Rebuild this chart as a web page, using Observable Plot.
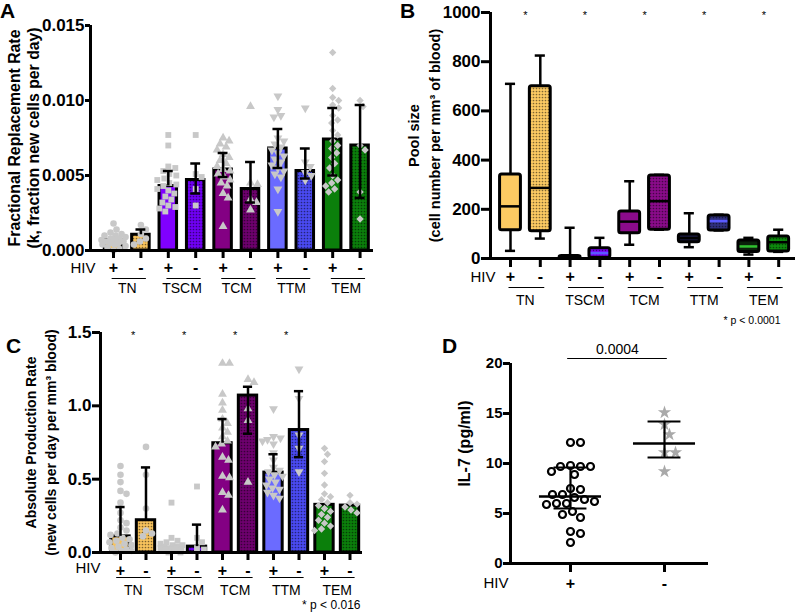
<!DOCTYPE html>
<html><head><meta charset="utf-8">
<script src="https://cdn.jsdelivr.net/npm/d3@7"></script>
<script src="https://cdn.jsdelivr.net/npm/@observablehq/plot@0.6"></script>
<style>
body{margin:0;background:#fff;}
#root{position:relative;width:800px;height:616px;overflow:hidden;font-family:"Liberation Sans",Arial,sans-serif;background:#fff;}
.panel{position:absolute;}
.letter{position:absolute;font-weight:bold;font-size:21px;line-height:1;}
</style></head><body>
<svg width="0" height="0" style="position:absolute"><defs>
<pattern id="dots" width="3" height="3" patternUnits="userSpaceOnUse"><circle cx="1.5" cy="1.5" r="0.85" fill="rgba(0,0,0,0.5)"/></pattern>
</defs></svg>
<div id="root">
  <div class="panel" id="pA" style="left:0;top:0"></div>
  <div class="panel" id="pB" style="left:400px;top:0"></div>
  <div class="panel" id="pC" style="left:0;top:300px"></div>
  <div class="panel" id="pD" style="left:400px;top:300px"></div>
  <div class="letter" style="left:0;top:0">A</div>
  <div class="letter" style="left:400px;top:0">B</div>
  <div class="letter" style="left:6px;top:335px">C</div>
  <div class="letter" style="left:442px;top:335px">D</div>
</div>
<script>
const FONT = '"Liberation Sans", Arial, Helvetica, sans-serif';
const groups = ["TN", "TSCM", "TCM", "TTM", "TEM"];
const hivSigns = ["+", "-"];
const barColors = ["#f8c35c","#f8c35c","#8000ff","#7000f5","#830083","#6e006e","#6b6bff","#4a4af2","#0b7f0b","#0b7f0b"];

// ---------- Panel A: fractional replacement rate ----------
const aMeans = [0.0007, 0.00105, 0.0043, 0.0047, 0.0054, 0.0041, 0.0068, 0.0053, 0.0074, 0.0070];
const aHi = [null, 0.0014, 0.0053, 0.0058, 0.0065, 0.0059, 0.0081, 0.0068, 0.0095, 0.0097];
const aLo = [null, null, null, 0.0038, 0.0049, 0.0032, 0.0055, 0.0048, 0.0050, 0.0035];
const aTicks = [0, 0.005, 0.010, 0.015];
const A_TN_pos = [0.0018,0.0014,0.0012,0.0011,0.0010,0.0010,0.0009,0.0008,0.0008,0.0007,0.0007,0.0006,0.0006,0.0005,0.0005,0.0004,0.0004,0.0003,0.0002,0.0001,0.0000];
const A_TN_neg = [0.0017,0.0014,0.0011,0.0008,0.0006,0.0004];
const A_TSCM_pos = [0.0077,0.0070,0.0056,0.0055,0.0053,0.0051,0.0050,0.0048,0.0047,0.0045,0.0044,0.0043,0.0041,0.0040,0.0038,0.0036,0.0034,0.0032,0.0030,0.0029,0.0028,0.0026];
const A_TSCM_neg = [0.0077,0.0051,0.0049,0.0041,0.0030];
const A_TCM_pos = [0.0075,0.0073,0.0071,0.0069,0.0067,0.0064,0.0062,0.0060,0.0058,0.0056,0.0054,0.0053,0.0051,0.0049,0.0047,0.0045,0.0043,0.0038,0.0035,0.0016];
const A_TCM_neg = [0.0096,0.0045,0.0044,0.0034,0.0032,0.0027];
const A_TTM_pos = [0.0103,0.0094,0.0090,0.0089,0.0075,0.0073,0.0071,0.0069,0.0067,0.0065,0.0063,0.0061,0.0059,0.0057,0.0055,0.0053,0.0051,0.0049,0.0041,0.0026];
const A_TTM_neg = [0.0095,0.0059,0.0056,0.0052,0.0050,0.0047];
const A_TEM_pos = [0.0132,0.0108,0.0102,0.0100,0.0097,0.0095,0.0090,0.0087,0.0085,0.0080,0.0077,0.0073,0.0070,0.0068,0.0065,0.0062,0.0058,0.0055,0.0050,0.0047,0.0045,0.0043,0.0041,0.0039];
const A_TEM_neg = [0.0100,0.0096,0.0070,0.0067,0.0039,0.0021];

// ---------- Panel B: pool size box plots ----------
const bMin = [31, 81, 0, 3, 56, 117, 46, 114, 16, 27];
const bQ1  = [115, 111, 0, 3, 103, 117, 66, 114, 26, 28];
const bMed = [212, 287, 4, 22, 150, 233, 83, 152, 49, 66];
const bQ3  = [341, 700, 10, 42, 191, 337, 98, 175, 73, 89];
const bMax = [710, 825, 125, 84, 314, 340, 184, 178, 84, 117];
const bTicks = [0, 200, 400, 600, 800, 1000];
const boxColors = ["#fcca62","#fcca62","#8000ff","#8000ff","#8b0b8b","#8b0b8b","#1a1a40","#303080","#0a200a","#0d8a0d"];
const medColors = ["black","black","black","#5a5aff","black","black","black","#5a5aff","#30c030","black"];
const bSig = ["*","*","*","*","*"];
const bNote = "* p < 0.0001";

// ---------- Panel C: absolute production rate ----------
const cMeans = [0.11, 0.22, 0.02, 0.04, 0.745, 1.07, 0.545, 0.835, 0.325, 0.32];
const cHi = [0.31, 0.58, null, 0.19, 0.91, 1.13, 0.67, 1.10, null, null];
const cLo = [null, null, null, null, null, 0.81, null, 0.65, null, null];
const cTicks = [0, 0.5, 1.0, 1.5];
const C_TN_pos = [0.59,0.53,0.48,0.42,0.40,0.34,0.27,0.22,0.20,0.17,0.15,0.13,0.12,0.10,0.09,0.08,0.07,0.06,0.05,0.04,0.03,0.02,0.01,0.01,0.00];
const C_TN_neg = [0.72,0.53,0.30,0.15,0.13,0.11];
const C_TSCM_pos = [0.34,0.10,0.08,0.07,0.06,0.05,0.05,0.04,0.04,0.03,0.03,0.03,0.02,0.02,0.02,0.01,0.01,0.01,0.00,0.00];
const C_TSCM_neg = [0.45,0.10,0.07,0.03,0.02];
const C_TCM_pos = [1.29,1.29,1.08,1.02,0.97,0.91,0.88,0.85,0.82,0.79,0.76,0.74,0.72,0.65,0.63,0.52,0.51,0.41,0.39,0.29];
const C_TCM_neg = [1.18,1.16,0.98,0.90,0.48];
const C_TTM_pos = [0.98,0.79,0.78,0.77,0.76,0.74,0.68,0.63,0.58,0.56,0.55,0.53,0.52,0.50,0.48,0.46,0.44,0.43,0.41,0.39,0.37];
const C_TTM_neg = [1.25,1.05,0.80,0.71,0.55];
const C_TEM_pos = [0.71,0.67,0.62,0.54,0.46,0.40,0.38,0.36,0.34,0.32,0.30,0.28,0.26,0.24,0.22,0.20,0.18,0.16,0.15];
const C_TEM_neg = [0.39,0.34,0.33,0.31,0.29,0.27];
const cSig = ["*","*","*","*",""];
const cNote = "* p < 0.016";

// ---------- Panel D: IL-7 ----------
const D_pos = [12.1,12.1,9.8,9.7,9.7,9.7,9.2,8.9,7.5,7.4,6.9,6.9,6.6,6.4,6.2,6.0,6.0,5.9,5.2,4.9,4.6,3.2,3.0,2.1];
const D_neg = [15.1,13.9,12.9,11.1,11.1,9.2];
const dMed = [6.7, 12.0];
const dQ1 = [5.5, 10.6];
const dQ3 = [9.6, 14.2];
const dTicks = [0, 5, 10, 15, 20];
const dP = "0.0004";

// ---------- helpers ----------
const triDown = {
  draw(ctx, size) {
    const s3 = Math.sqrt(3);
    const y = -Math.sqrt(size / (s3 * 3));
    ctx.moveTo(0, -y * 2);
    ctx.lineTo(-s3 * y, y);
    ctx.lineTo(s3 * y, y);
    ctx.closePath();
  }
};
const shapes = ["circle", "square", "triangle", triDown, "diamond2"];

function swarm(vals, pxX, pxY, r, maxOff) {
  const order = d3.range(vals.length).sort((a, b) => vals[b] - vals[a]);
  const placed = [], off = new Array(vals.length).fill(0);
  for (const k of order) {
    const y = vals[k] * pxY;
    let best = 0, bestD = -1;
    for (let s = 0; s <= 2 * maxOff; s++) {
      const cand = (s % 2 ? 1 : -1) * Math.ceil(s / 2) || 0;
      const md = placed.length ? d3.min(placed, p => Math.hypot(p.x - cand, p.y - y)) : Infinity;
      if (md >= 2 * r) { best = cand; bestD = md; break; }
      if (md > bestD) { bestD = md; best = cand; }
    }
    placed.push({x: best, y});
    off[k] = best / pxX;
  }
  return off;
}

function geom(cfg) {
  return {
    pxX: (cfg.width - cfg.mL - cfg.mR) / (cfg.xDom[1] - cfg.xDom[0]),
    pxY: (cfg.height - cfg.mT - cfg.mB) / (cfg.yDom[1] - cfg.yDom[0])
  };
}

function plotBase(cfg, marks) {
  return Plot.plot({
    width: cfg.width, height: cfg.height,
    marginLeft: cfg.mL, marginRight: cfg.mR, marginTop: cfg.mT, marginBottom: cfg.mB,
    x: {domain: cfg.xDom}, y: {domain: cfg.yDom},
    color: {type: "identity"},
    style: {fontFamily: FONT, fontSize: "14px", fontWeight: "bold", overflow: "visible", background: "transparent", color: "black"},
    marks
  });
}

function frameMarks(cfg, n) {
  return [
    Plot.ruleX([cfg.xDom[0]], {stroke: "black", strokeWidth: 3}),
    Plot.ruleY([cfg.yDom[0]], {stroke: "black", strokeWidth: 3}),
    Plot.axisY({ticks: cfg.yTicks, tickFormat: cfg.yFmt, tickSize: cfg.yTickSize, tickPadding: 1, strokeWidth: 3, fontSize: cfg.tickFont, fontWeight: "bold", label: null}),
    Plot.axisX({ticks: d3.range(n), tickFormat: i => hivSigns[i % 2], tickSize: cfg.xTickSize, tickPadding: cfg.xPad, strokeWidth: 3, fontSize: 16, fontWeight: "bold", label: null}),
    Plot.text(["HIV"], {frameAnchor: "bottom-left", dx: cfg.hivDx, dy: cfg.hivDy, textAnchor: "end", lineAnchor: "middle", fontSize: 15, fontWeight: "normal"}),
    Plot.text([cfg.yLabel], {frameAnchor: "left", rotate: -90, dx: cfg.labDx, dy: cfg.labDy || 0, textAnchor: "middle", lineAnchor: "middle", fontSize: cfg.labSize, lineHeight: cfg.labLH, fontWeight: "bold"})
  ];
}

function groupMarks(cfg, sig, note) {
  const grp = groups.map((name, g) => ({name, a: 2 * g, b: 2 * g + 1, sig: sig ? sig[g] : ""}));
  const m = [
    Plot.ruleY(grp, {y: cfg.yDom[0], x1: d => d.a + cfg.ulL, x2: d => d.b + cfg.ulR, dy: cfg.ulDy, stroke: "black", strokeWidth: 1.2}),
    Plot.text(grp, {x: d => (d.a + d.b) / 2, y: cfg.yDom[0], dy: cfg.grpDy, text: "name", lineAnchor: "middle", fontSize: 14, fontWeight: "normal"})
  ];
  if (sig) m.push(Plot.text(grp, {x: d => (d.a + d.b) / 2, frameAnchor: "top", text: "sig", textAnchor: "middle", lineAnchor: "middle", dy: 3, fontSize: 11, fontWeight: "normal"}));
  if (note) m.push(Plot.text([note], {frameAnchor: "bottom-right", dx: cfg.noteDx, dy: cfg.noteDy, textAnchor: "end", lineAnchor: "middle", fontSize: cfg.noteSize, fontWeight: "normal"}));
  return m;
}

function barPanel(cfg, means, hi, lo, pts, sig, note) {
  const {pxX, pxY} = geom(cfg);
  const bars = means.map((m, i) => ({i, mean: m, color: barColors[i], neg: i % 2 === 1}));
  const errs = means.map((m, i) => ({i, top: hi[i], bot: lo[i] == null ? m : lo[i], hasLo: lo[i] != null})).filter(d => d.top != null);
  const points = [];
  pts.forEach((vals, i) => {
    const offs = swarm(vals, pxX, pxY, 3.2, cfg.maxOff);
    vals.forEach((v, j) => points.push({i, g: Math.floor(i / 2), x: i + offs[j], v}));
  });
  const hw = cfg.barHalf;
  const marks = [
    Plot.rect(bars, {x1: d => d.i - hw, x2: d => d.i + hw, y1: 0, y2: "mean", fill: "color"}),
    Plot.rect(bars.filter(d => d.neg), {x1: d => d.i - hw, x2: d => d.i + hw, y1: 0, y2: "mean", fill: "url(#dots)"}),
    Plot.rect(bars, {x1: d => d.i - hw, x2: d => d.i + hw, y1: 0, y2: "mean", fill: "none", stroke: "black", strokeWidth: 3}),
    ...shapes.map((s, g) => Plot.dot(points.filter(p => p.g === g), {x: "x", y: "v", symbol: s, r: 3.3, fill: "#c8c8c8", stroke: "none"})),
    Plot.ruleX(errs, {x: "i", y1: "bot", y2: "top", stroke: "black", strokeWidth: 2.5}),
    Plot.ruleY(errs, {y: "top", x1: d => d.i - 0.18, x2: d => d.i + 0.18, stroke: "black", strokeWidth: 2.5}),
    Plot.ruleY(errs.filter(d => d.hasLo), {y: "bot", x1: d => d.i - 0.18, x2: d => d.i + 0.18, stroke: "black", strokeWidth: 2.5}),
    ...frameMarks(cfg, 10),
    ...groupMarks(cfg, sig, note)
  ];
  return plotBase(cfg, marks);
}

// Panel A
const cfgA = {width: 400, height: 305, mL: 90, mR: 27, mT: 25, mB: 55, xDom: [-0.84, 9.49], yDom: [0, 0.015],
  yTicks: aTicks, yFmt: d3.format(".3f"), yTickSize: 5, tickFont: 17, xTickSize: 8, xPad: 3,
  hivDx: 5, hivDy: 18, ulL: -0.05, ulR: 0.2, ulDy: 28, grpDy: 38, barHalf: 0.32, maxOff: 12,
  yLabel: "Fractional Replacement Rate\n(k, fraction new cells per day)", labDx: -67, labSize: 15.8, labLH: 1.2};
document.getElementById("pA").appendChild(barPanel(cfgA, aMeans, aHi, aLo,
  [A_TN_pos, A_TN_neg, A_TSCM_pos, A_TSCM_neg, A_TCM_pos, A_TCM_neg, A_TTM_pos, A_TTM_neg, A_TEM_pos, A_TEM_neg], null, null));

// Panel C
const cfgC = {width: 400, height: 316, mL: 100, mR: 38, mT: 32, mB: 64, xDom: [-0.784, 9.49], yDom: [0, 1.5],
  yTicks: cTicks, yFmt: d3.format(".1f"), yTickSize: 8, tickFont: 17, xTickSize: 8, xPad: 4,
  hivDx: 0, hivDy: 16, ulL: -0.15, ulR: 0.2, ulDy: 25, grpDy: 38, barHalf: 0.36, maxOff: 11,
  noteDx: -2, noteDy: 53, noteSize: 12,
  yLabel: "Absolute Production Rate\n(new cells per day per mm³ blood)", labDx: -61, labSize: 14, labLH: 1.45};
document.getElementById("pC").appendChild(barPanel(cfgC, cMeans, cHi, cLo,
  [C_TN_pos, C_TN_neg, C_TSCM_pos, C_TSCM_neg, C_TCM_pos, C_TCM_neg, C_TTM_pos, C_TTM_neg, C_TEM_pos, C_TEM_neg], cSig, cNote));

// Panel B
(function () {
  const cfg = {width: 400, height: 330, mL: 90, mR: 5, mT: 12, mB: 72, xDom: [-0.671, 9.564], yDom: [0, 1000],
    yTicks: bTicks, yFmt: d3.format("d"), yTickSize: 9, tickFont: 17, xTickSize: 9, xPad: 3,
    hivDx: 5, hivDy: 19, ulL: -0.05, ulR: 0.15, ulDy: 29, grpDy: 42,
    noteDx: -15, noteDy: 62, noteSize: 10.5,
    yLabel: "Pool size\n(cell number per mm³ of blood)", labDx: -68, labSize: 14.5, labLH: 1.45};
  const boxes = bMed.map((m, i) => ({i, min: bMin[i], q1: bQ1[i], med: m, q3: bQ3[i], max: bMax[i], color: boxColors[i], mc: medColors[i], neg: i % 2 === 1}));
  const hw = 0.35, cw = 0.17;
  const marks = [
    Plot.ruleX(boxes, {x: "i", y1: "min", y2: "max", stroke: "black", strokeWidth: 2.5}),
    Plot.ruleY(boxes, {y: "min", x1: d => d.i - cw, x2: d => d.i + cw, stroke: "black", strokeWidth: 2.5}),
    Plot.ruleY(boxes, {y: "max", x1: d => d.i - cw, x2: d => d.i + cw, stroke: "black", strokeWidth: 2.5}),
    Plot.rect(boxes, {x1: d => d.i - hw, x2: d => d.i + hw, y1: "q1", y2: "q3", fill: "color", rx: 2}),
    Plot.rect(boxes.filter(d => d.neg), {x1: d => d.i - hw, x2: d => d.i + hw, y1: "q1", y2: "q3", fill: "url(#dots)", rx: 2}),
    Plot.ruleY(boxes, {y: "med", x1: d => d.i - hw, x2: d => d.i + hw, stroke: "mc", strokeWidth: 2.5}),
    Plot.rect(boxes, {x1: d => d.i - hw, x2: d => d.i + hw, y1: "q1", y2: "q3", fill: "none", stroke: "black", strokeWidth: 3, rx: 2}),
    ...frameMarks(cfg, 10),
    ...groupMarks(cfg, bSig, bNote)
  ];
  document.getElementById("pB").appendChild(plotBase(cfg, marks));
})();

// Panel D
(function () {
  const cfg = {width: 400, height: 316, mL: 110, mR: 92, mT: 63, mB: 53, xDom: [-0.638, 1.468], yDom: [0, 20],
    yTicks: dTicks, yFmt: d3.format("d"), yTickSize: 7, tickFont: 15, xTickSize: 9, xPad: 5,
    hivDx: -2, hivDy: 20,
    yLabel: "IL-7 (pg/ml)", labDx: -47, labDy: -20, labSize: 16, labLH: 1.2};
  const {pxX, pxY} = geom(cfg);
  const offP = swarm(D_pos, pxX, pxY, 4.9, 30);
  const offN = swarm(D_neg, pxX, pxY, 5.5, 30);
  const pPos = D_pos.map((v, j) => ({x: 0 + offP[j], v}));
  const pNeg = D_neg.map((v, j) => ({x: 1 + offN[j], v}));
  const st = dMed.map((m, i) => ({i, med: m, q1: dQ1[i], q3: dQ3[i]}));
  const marks = [
    Plot.dot(pPos, {x: "x", y: "v", r: 3.5, fill: "white", stroke: "black", strokeWidth: 2.2}),
    Plot.dot(pNeg, {x: "x", y: "v", symbol: "star", r: 4.2, fill: "#a9a9a9", stroke: "none"}),
    Plot.ruleX(st, {x: "i", y1: "q1", y2: "q3", stroke: "black", strokeWidth: 2.2}),
    Plot.ruleY(st, {y: "med", x1: d => d.i - 0.33, x2: d => d.i + 0.33, stroke: "black", strokeWidth: 2.5}),
    Plot.ruleY(st, {y: "q1", x1: d => d.i - 0.175, x2: d => d.i + 0.175, stroke: "black", strokeWidth: 2.2}),
    Plot.ruleY(st, {y: "q3", x1: d => d.i - 0.175, x2: d => d.i + 0.175, stroke: "black", strokeWidth: 2.2}),
    Plot.ruleY([cfg.yDom[1]], {x1: -0.03, x2: 1.03, dy: -5, stroke: "black", strokeWidth: 1.2}),
    Plot.text([dP], {x: 0.5, y: cfg.yDom[1], dy: -14, lineAnchor: "middle", fontSize: 14, fontWeight: "normal"}),
    ...frameMarks(cfg, 2)
  ];
  document.getElementById("pD").appendChild(plotBase(cfg, marks));
})();
</script>
</body></html>
